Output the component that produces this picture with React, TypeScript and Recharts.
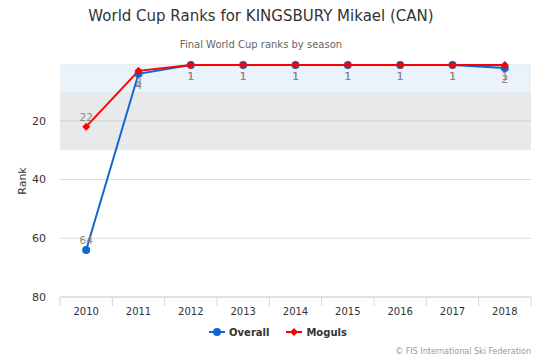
import { LineChart, Line, XAxis, YAxis, CartesianGrid, ReferenceArea, ReferenceLine, Legend } from 'recharts';

const seasons = ['2010', '2011', '2012', '2013', '2014', '2015', '2016', '2017', '2018'];
const overallRanks = [64, 4, 1, 1, 1, 1, 1, 1, 2];
const mogulsRanks = [22, 3, 1, 1, 1, 1, 1, 1, 1];
const rankTicks = [20, 40, 60, 80];

const BLUE = '#0f66d0';
const RED = '#ff0000';
const FONT = '"DejaVu Sans", Verdana, sans-serif';

const W = 540;
const H = 360;
const MARGIN = { top: 65, right: 9, bottom: 0, left: 0 };
const Y_AXIS_W = 60;
const X_AXIS_H = 63;
const PLOT_W = W - MARGIN.left - MARGIN.right - Y_AXIS_W;
const HALF_BAND = PLOT_W / seasons.length / 2;

const data = seasons.map((season, i) => ({
  season,
  overall: overallRanks[i],
  moguls: mogulsRanks[i],
}));

function SeasonTick(props: any) {
  const { x, y, payload, index } = props;
  const top = y - 8;
  return (
    <g>
      <line x1={x - HALF_BAND} x2={x - HALF_BAND} y1={top} y2={top + 9} stroke="#ccd6eb" />
      {index === seasons.length - 1 && (
        <line x1={x + HALF_BAND} x2={x + HALF_BAND} y1={top} y2={top + 9} stroke="#ccd6eb" />
      )}
      <text x={x} y={top + 18} textAnchor="middle" fontSize={10} fill="#333" fontFamily={FONT}>
        {payload.value}
      </text>
    </g>
  );
}

function rankLabel(props: any) {
  const { x, y, value } = props;
  // ranks near the top get pushed under the point, like the original
  const dy = value <= 5 ? 15 : -6;
  return (
    <text x={x} y={y + dy} textAnchor="middle" fontSize={10.5} fill="#888" fontFamily={FONT}>
      {value}
    </text>
  );
}

function Diamond(props: any) {
  const { cx, cy } = props;
  if (cx == null || cy == null) return null;
  const r = 4;
  return <path d={`M${cx},${cy - r}L${cx + r},${cy}L${cx},${cy + r}L${cx - r},${cy}Z`} fill={RED} />;
}

function LegendContent() {
  const items = [
    { name: 'Overall', color: BLUE, circle: true },
    { name: 'Moguls', color: RED, circle: false },
  ];
  return (
    <div style={{ display: 'flex', justifyContent: 'center', gap: 17, fontFamily: FONT, fontSize: 10, fontWeight: 'bold', color: '#333' }}>
      {items.map((it) => (
        <div key={it.name} style={{ display: 'flex', alignItems: 'center', gap: 4 }}>
          <svg width={16} height={12}>
            <line x1={0} x2={16} y1={6} y2={6} stroke={it.color} strokeWidth={2} />
            {it.circle ? (
              <circle cx={8} cy={6} r={4} fill={it.color} />
            ) : (
              <path d="M8,2L12,6L8,10L4,6Z" fill={it.color} />
            )}
          </svg>
          <span>{it.name}</span>
        </div>
      ))}
    </div>
  );
}

export default function App() {
  return (
    <div style={{ position: 'relative', width: W, height: H, background: '#fff', fontFamily: FONT }}>
      <style>{'body{margin:0}'}</style>
      <div style={{ position: 'absolute', top: 7, left: 0, width: 522, textAlign: 'center', fontSize: 15, color: '#333' }}>
        World Cup Ranks for KINGSBURY Mikael (CAN)
      </div>
      <div style={{ position: 'absolute', top: 39, left: 0, width: 522, textAlign: 'center', fontSize: 10, color: '#666' }}>
        Final World Cup ranks by season
      </div>
      <LineChart width={W} height={H} data={data} margin={MARGIN}>
        <ReferenceArea y1={1} y2={10} fill="#ebf3fa" fillOpacity={1} stroke="none" />
        <ReferenceArea y1={10} y2={30} fill="#e8e9eb" fillOpacity={1} stroke="none" />
        <CartesianGrid vertical={false} stroke="#dadada" />
        <ReferenceLine y={20} stroke="#d0d0d0" />
        <XAxis
          dataKey="season"
          scale="band"
          height={X_AXIS_H}
          stroke="#ccd6eb"
          tickLine={false}
          tick={<SeasonTick />}
          interval={0}
        />
        <YAxis
          reversed
          domain={[1, 80]}
          ticks={rankTicks}
          width={Y_AXIS_W}
          axisLine={false}
          tickLine={false}
          tickSize={6}
          tickMargin={8}
          tick={{ fontSize: 11, fill: '#333', fontFamily: FONT }}
          label={{
            value: 'Rank',
            content: (p: any) => (
              <text
                x={22}
                y={p.viewBox.y + p.viewBox.height / 2}
                transform={`rotate(-90 22 ${p.viewBox.y + p.viewBox.height / 2})`}
                textAnchor="middle"
                dominantBaseline="central"
                fontSize={11}
                fill="#333"
                fontFamily={FONT}
              >
                Rank
              </text>
            ),
          }}
        />
        <Legend
          layout="horizontal"
          verticalAlign="middle"
          align="center"
          content={<LegendContent />}
          wrapperStyle={{ top: 326, left: 8, width: W }}
        />
        <Line
          dataKey="overall"
          name="Overall"
          stroke={BLUE}
          strokeWidth={2}
          dot={{ r: 4, fill: BLUE, stroke: BLUE, strokeWidth: 0 }}
          label={rankLabel}
          isAnimationActive={false}
        />
        <Line
          dataKey="moguls"
          name="Moguls"
          stroke={RED}
          strokeWidth={2}
          dot={<Diamond />}
          label={rankLabel}
          isAnimationActive={false}
        />
      </LineChart>
      <div style={{ position: 'absolute', right: 9, top: 347, fontSize: 8, color: '#999' }}>
        © FIS International Ski Federation
      </div>
    </div>
  );
}
